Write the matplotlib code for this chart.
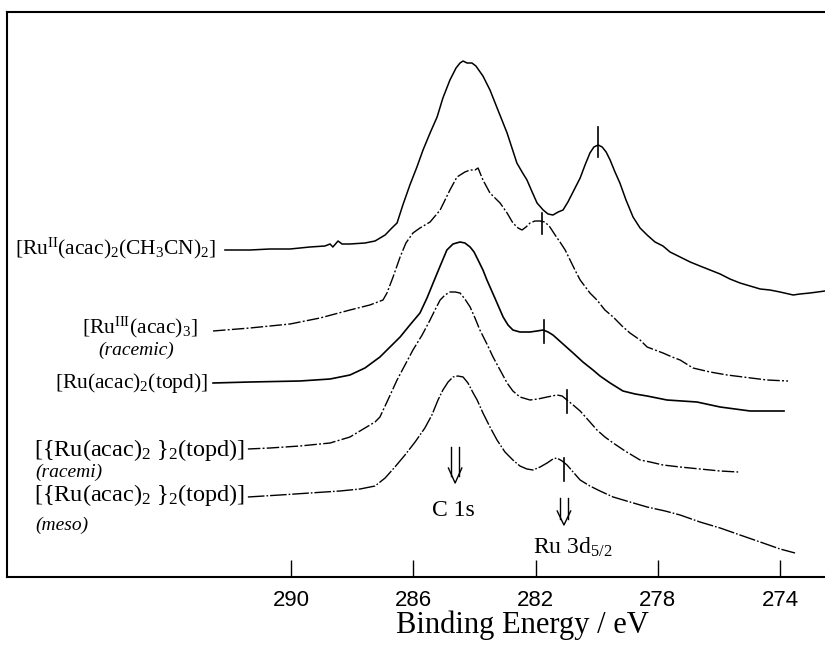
import matplotlib
matplotlib.use("Agg")
import matplotlib.pyplot as plt

plt.rcParams['mathtext.fontset'] = 'custom'
plt.rcParams['mathtext.rm'] = 'Liberation Serif'
plt.rcParams['mathtext.it'] = 'Liberation Serif:italic'
plt.rcParams['mathtext.bf'] = 'Liberation Serif:bold'

# ---------------- data (binding energy in eV, intensity in arbitrary units) -------------
e1 = [292.16, 291.34, 290.69, 290.03, 289.38, 288.89, 288.72, 288.63, 288.46, 288.33, 288.07,
      287.58, 287.25, 286.92, 286.70, 286.53, 286.34, 286.11, 285.88, 285.68, 285.45, 285.22,
      285.03, 284.80, 284.60, 284.47, 284.37, 284.24, 284.08, 283.95, 283.72, 283.49, 283.23,
      282.93, 282.77, 282.61, 282.44, 282.28, 282.11, 281.95, 281.75, 281.59, 281.43, 281.26,
      281.10, 280.94, 280.74, 280.54, 280.38, 280.22, 280.09, 279.95, 279.82, 279.69, 279.56,
      279.40, 279.24, 279.04, 278.81, 278.58, 278.35, 278.09, 277.83, 277.60, 277.27, 276.94,
      276.62, 276.29, 275.96, 275.64, 275.31, 274.98, 274.65, 274.33, 274.00, 273.57, 273.35,
      273.02, 272.53]
i1 = [327, 327, 328, 328, 330, 331, 333, 330, 336, 333, 333,
      334, 336, 342, 349, 354, 372, 392, 410, 427, 444, 460,
      479, 497, 509, 514, 516, 514, 514, 511, 501, 487, 467,
      444, 429, 414, 405, 397, 385, 374, 367, 363, 362, 365,
      367, 375, 387, 399, 412, 424, 430, 432, 430, 425, 417,
      405, 394, 377, 360, 349, 342, 335, 331, 325, 320, 315,
      311, 307, 303, 298, 294, 291, 288, 287, 285, 282, 283,
      284, 286]

e2 = [292.55, 291.34, 290.03, 289.05, 288.07, 287.42, 286.99, 286.86, 286.66, 286.43, 286.24,
      286.01, 285.78, 285.45, 285.12, 284.80, 284.57, 284.31, 284.14, 283.98, 283.88, 283.72,
      283.49, 283.16, 282.93, 282.74, 282.57, 282.44, 282.31, 282.18, 282.02, 281.85, 281.69,
      281.53, 281.36, 281.20, 281.03, 280.87, 280.71, 280.54, 280.22, 279.99, 279.73, 279.46,
      279.17, 278.91, 278.58, 278.35, 278.09, 277.83, 277.53, 277.27, 276.85, 276.29, 275.73,
      275.21, 274.43, 273.74]
i2 = [246, 249, 253, 259, 267, 272, 277, 284, 300, 320, 334,
      344, 349, 355, 367, 387, 400, 405, 407, 407, 409, 397,
      384, 374, 364, 354, 349, 347, 350, 354, 356, 356, 355,
      350, 342, 335, 327, 317, 307, 297, 284, 277, 267, 260,
      251, 244, 237, 230, 227, 224, 220, 217, 209, 205, 202,
      200, 197, 196]

e3 = [292.55, 291.34, 289.71, 288.72, 288.07, 287.58, 287.09, 286.76, 286.43, 286.11, 285.78,
      285.55, 285.35, 285.12, 284.90, 284.70, 284.47, 284.31, 284.14, 284.01, 283.88, 283.72,
      283.59, 283.33, 283.06, 282.90, 282.74, 282.51, 282.18, 281.95, 281.75, 281.59, 281.43,
      281.10, 280.77, 280.45, 280.12, 279.89, 279.56, 279.14, 278.74, 278.35, 277.70, 276.72,
      275.96, 274.98, 273.87]
i3 = [194, 195, 196, 198, 202, 209, 220, 230, 240, 252, 264,
      279, 294, 311, 327, 333, 335, 334, 330, 325, 317, 307,
      297, 279, 260, 252, 247, 245, 245, 246, 247, 245, 242,
      233, 224, 215, 207, 201, 194, 186, 183, 181, 177, 175,
      170, 166, 166]

e4 = [291.41, 290.69, 289.71, 288.72, 288.07, 287.58, 287.25, 287.09, 286.83, 286.53, 286.27,
      286.01, 285.71, 285.45, 285.29, 285.12, 284.96, 284.80, 284.63, 284.47, 284.31, 284.14,
      283.98, 283.82, 283.59, 283.39, 283.16, 282.93, 282.74, 282.51, 282.18, 281.92, 281.62,
      281.30, 281.13, 280.97, 280.77, 280.54, 280.22, 279.99, 279.73, 279.46, 279.07, 278.58,
      278.25, 277.83, 277.27, 276.62, 275.96, 275.37]
i4 = [128, 129, 131, 134, 140, 149, 155, 160, 177, 197, 212,
      227, 242, 257, 267, 277, 282, 285, 285, 284, 278, 270,
      259, 247, 233, 220, 207, 194, 186, 180, 177, 178, 180,
      182, 181, 177, 172, 166, 155, 147, 140, 134, 126, 117,
      115, 112, 110, 108, 106, 105]

e5 = [291.41, 290.36, 289.38, 288.40, 287.74, 287.25, 286.92, 286.60, 286.27, 285.94, 285.62,
      285.39, 285.19, 285.03, 284.86, 284.70, 284.54, 284.37, 284.21, 284.04, 283.91, 283.72,
      283.49, 283.26, 283.00, 282.74, 282.51, 282.28, 282.08, 281.85, 281.62, 281.43, 281.30,
      281.13, 280.97, 280.77, 280.54, 280.22, 279.89, 279.46, 278.91, 278.35, 277.76, 277.27,
      276.62, 275.96, 275.31, 274.65, 274.00, 273.51]
i5 = [80, 82, 84, 86, 88, 91, 99, 110, 122, 135, 149,
      162, 177, 187, 195, 200, 201, 200, 194, 184, 177, 164,
      150, 137, 125, 117, 111, 108, 107, 110, 114, 118, 119,
      116, 112, 105, 97, 91, 86, 80, 75, 70, 66, 62,
      55, 49, 42, 35, 28, 24]

# Ru 3d5/2 peak markers (energy, low, high)
mark_e = [279.95, 281.79, 281.72, 280.97, 281.07]
mark_lo = [420, 343, 234, 164, 96]
mark_hi = [450, 364, 257, 187, 119]

xticks = [290, 286, 282, 278, 274]

labels = [r'[Ru$^{\rm II}$(acac)$_2$(CH$_3$CN)$_2$]',
          r'[Ru$^{\rm III}$(acac)$_3$]',
          r'[Ru(acac)$_2$(topd)]',
          r'[{Ru(acac)$_2$ }$_2$(topd)]',
          r'[{Ru(acac)$_2$ }$_2$(topd)]']
label_size = [15.5, 15.5, 15.5, 17.5, 17.5]
label_e = [292.45, 293.05, 292.70, 291.50, 291.52]
label_i = [329, 250, 194, 127, 82]
sub_labels = ['(racemic)', '(racemi)', '(meso)']
sub_e = [296.30, 298.35, 298.35]
sub_i = [227, 105, 52]

# ---------------- figure -----------------
fig = plt.figure(figsize=(8.25, 6.52), dpi=100)
ax = fig.add_axes([7/825, 75/652, 818/825, 565/652])
ax.set_xlim(299.29, 272.53)
ax.set_ylim(0, 565)

k = 'black'
dd = (0, (9, 1.6, 1.4, 1.6))
ax.plot(e1, i1, color=k, lw=1.1)
ax.plot(e2, i2, color=k, lw=1.0, linestyle=dd)
ax.plot(e3, i3, color=k, lw=1.2)
ax.plot(e4, i4, color=k, lw=1.0, linestyle=dd)
ax.plot(e5, i5, color=k, lw=1.0, linestyle=(0, (12, 1.4, 1.2, 1.4)))

for e, lo, hi in zip(mark_e, mark_lo, mark_hi):
    ax.plot([e, e], [lo, hi], color=k, lw=1.2)

serif = 'Liberation Serif'
for t, e, i, s in zip(labels, label_e, label_i, label_size):
    ax.text(e, i, t, ha='right', va='center', fontsize=s, family=serif)
for t, e, i in zip(sub_labels, sub_e, sub_i):
    ax.text(e, i, t, ha='left', va='center', fontsize=14, family=serif, style='italic')

# double arrows
def darrow(e, top, bot, hw=0.12, headw=0.22, headh=15):
    ax.plot([e - hw, e - hw], [top, bot + headh * 0.45], color=k, lw=1.0)
    ax.plot([e + hw, e + hw], [top, bot + headh * 0.45], color=k, lw=1.0)
    ax.plot([e - headw, e, e + headw], [bot + headh, bot, bot + headh], color=k, lw=1.0)

darrow(284.63, 130, 94)
darrow(281.07, 79, 52, headh=14)
ax.text(284.70, 67, 'C 1s', ha='center', va='center', fontsize=17, family=serif)
ax.text(280.77, 30, r'Ru 3d$_{5/2}$', ha='center', va='center', fontsize=17, family=serif)

# axes styling
for s in ['left', 'top', 'bottom']:
    ax.spines[s].set_linewidth(1.5)
ax.spines['right'].set_visible(False)
ax.set_yticks([])
ax.set_xticks(xticks)
ax.set_xticklabels([str(v) for v in xticks], family='Liberation Sans', fontsize=16)
ax.tick_params(axis='x', direction='in', length=12, width=1.0, pad=9.5)
fig.text(522/825, 1 - 625/652, 'Binding Energy / eV', ha='center', va='center',
         fontsize=22, family=serif)

fig.savefig('out.png', dpi=100)
